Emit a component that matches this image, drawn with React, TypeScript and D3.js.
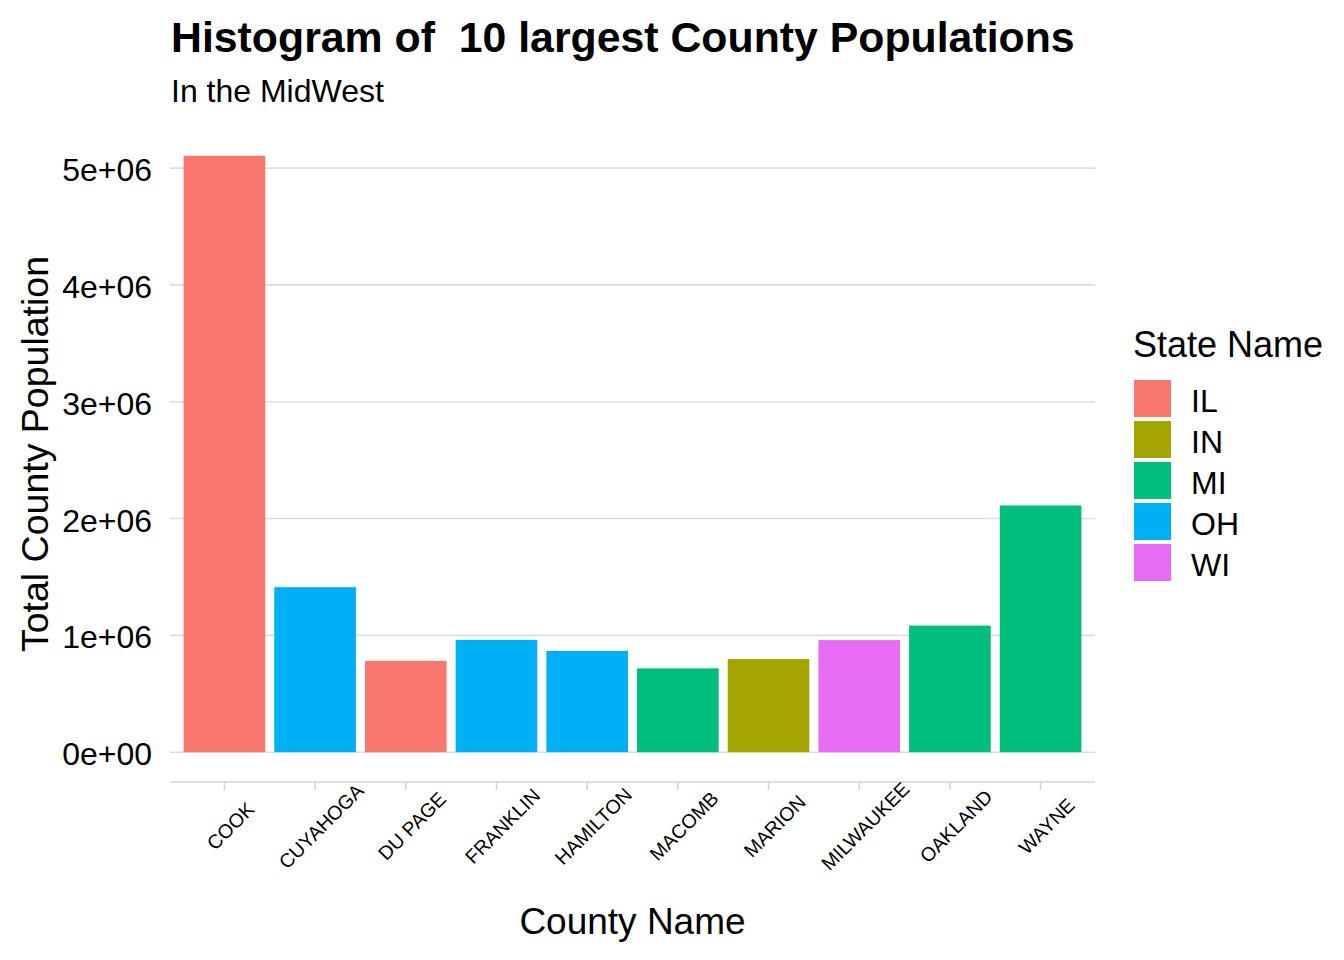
import React from 'react'
import * as d3 from 'd3'

// county data (midwest, top 10 by population)
const counties = ['COOK', 'CUYAHOGA', 'DU PAGE', 'FRANKLIN', 'HAMILTON', 'MACOMB', 'MARION', 'MILWAUKEE', 'OAKLAND', 'WAYNE']
const populations = [5105067, 1412140, 781666, 961437, 866228, 717400, 797159, 959275, 1083592, 2111687]
const countyStates = ['IL', 'OH', 'IL', 'OH', 'OH', 'MI', 'IN', 'WI', 'MI', 'MI']

const states = ['IL', 'IN', 'MI', 'OH', 'WI']
const stateColors = ['#F8766D', '#A3A500', '#00BF7D', '#00B0F6', '#E76BF3']
const yTicks = [0, 1e6, 2e6, 3e6, 4e6, 5e6]

const FONT = '"Liberation Sans", Arial, sans-serif'

const App = () => {
  const width = 1344
  const height = 960
  const left = 170
  const right = 1095
  const top = 126
  const bottom = 782

  const rows = counties.map((c, i) => ({ county: c, pop: populations[i], state: countyStates[i] }))

  const maxPop = d3.max(populations) as number
  const pad = maxPop * 0.05
  const y = d3.scaleLinear().domain([-pad, maxPop + pad]).range([bottom, top])

  // ggplot-like discrete expansion: 0.6 units each side
  const n = counties.length
  const unit = (right - left) / (n - 1 + 1.2)
  const x = d3.scalePoint<string>().domain(counties).range([left + 0.6 * unit, right - 0.6 * unit])
  const barW = unit * 0.9

  const color = d3.scaleOrdinal<string, string>().domain(states).range(stateColors)
  const fmt = (v: number) => (v === 0 ? '0e+00' : `${v / 1e6}e+06`)

  return (
    <svg width={width} height={height} style={{ position: 'absolute', left: 0, top: 0, fontFamily: FONT }}>
      <rect width={width} height={height} fill="#fff" />
      <text x={171} y={52} fontSize={42.8} fontWeight="bold" style={{ whiteSpace: 'pre' }}>
        {'Histogram of  10 largest County Populations'}
      </text>
      <text x={171} y={102} fontSize={32}>In the MidWest</text>

      {/* gridlines */}
      {yTicks.map(t => (
        <line key={t} x1={left} x2={right} y1={y(t)} y2={y(t)} stroke="#DEDEDE" strokeWidth={1.6} />
      ))}
      {yTicks.map(t => (
        <text key={'l' + t} x={152} y={y(t) + 2} fontSize={32} textAnchor="end" dominantBaseline="central">
          {fmt(t)}
        </text>
      ))}

      {/* bars */}
      {rows.map(d => (
        <rect
          key={d.county}
          x={(x(d.county) as number) - barW / 2}
          width={barW}
          y={y(d.pop)}
          height={y(0) - y(d.pop)}
          fill={color(d.state)}
        />
      ))}

      {/* x axis line + ticks */}
      <line x1={left} x2={right} y1={bottom} y2={bottom} stroke="#D6D6D6" strokeWidth={1.6} />
      {counties.map(c => (
        <g key={c}>
          <line x1={x(c)} x2={x(c)} y1={bottom} y2={bottom + 8} stroke="#D6D6D6" strokeWidth={1.6} />
          <text
            transform={`translate(${(x(c) as number) + 6},${826}) rotate(-45)`}
            fontSize={19.5}
            textAnchor="middle"
            dominantBaseline="central"
          >
            {c}
          </text>
        </g>
      ))}

      <text x={(left + right) / 2} y={934} fontSize={37} textAnchor="middle">County Name</text>
      <text transform={`translate(48,${(top + bottom) / 2}) rotate(-90)`} fontSize={37.5} textAnchor="middle">
        Total County Population
      </text>

      {/* legend */}
      <text x={1133} y={357} fontSize={36}>State Name</text>
      {states.map((s, i) => (
        <g key={s} transform={`translate(1134,${380 + i * 41})`}>
          <rect width={37} height={37} fill={color(s)} />
          <text x={57} y={20.5} fontSize={32} dominantBaseline="central">{s}</text>
        </g>
      ))}
    </svg>
  )
}

export default App
